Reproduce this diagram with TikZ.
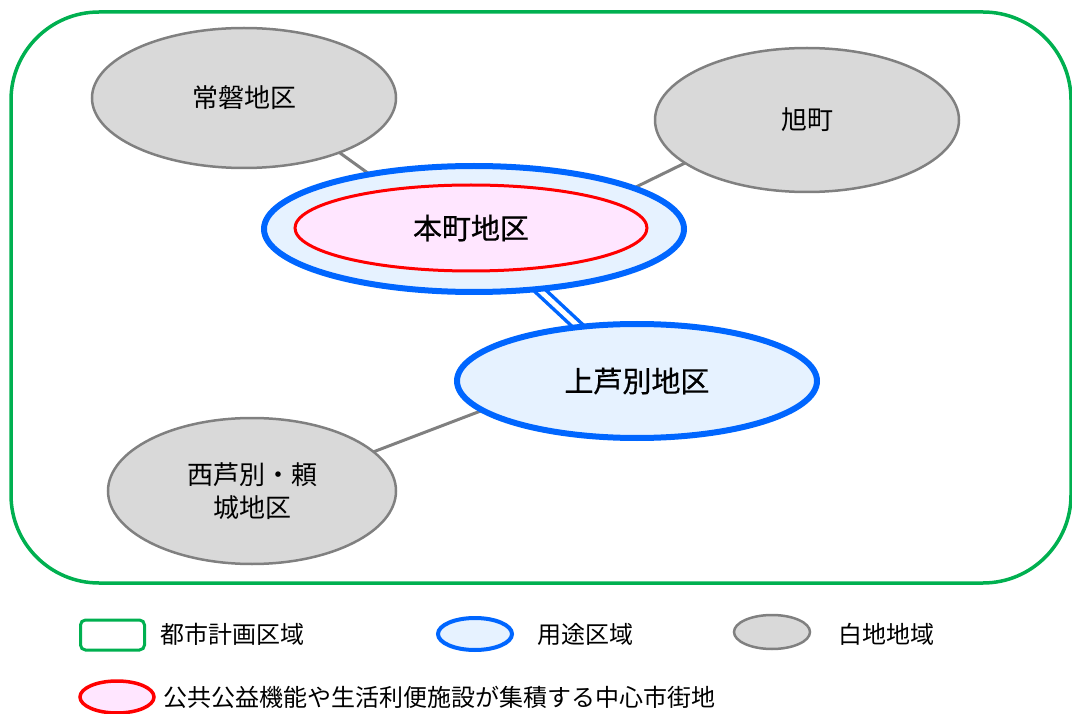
\documentclass[tikz,border=0pt]{standalone}
\usepackage{fontspec}
\setmainfont{Noto Sans CJK JP}
\newfontfamily\jpbold{Noto Sans CJK JP}[FakeBold=0.6]
\usetikzlibrary{shapes.geometric}
\definecolor{frameg}{HTML}{00B050}
\definecolor{useblue}{HTML}{0066FF}
\definecolor{usefill}{HTML}{E6F2FF}
\definecolor{cenfill}{HTML}{FFE6FF}
\definecolor{grayfill}{HTML}{D9D9D9}
\definecolor{graystroke}{HTML}{808080}
\tikzset{
  whiteell/.style={ellipse, draw=graystroke, fill=grayfill, line width=2.5pt, inner sep=0pt, font=\fontsize{26}{33}\selectfont, align=center},
  useell/.style={ellipse, draw=useblue, fill=usefill, line width=6pt, inner sep=0pt},
  cenell/.style={ellipse, draw=red, fill=cenfill, line width=3pt, inner sep=0pt, font=\jpbold\fontsize{29}{33}\selectfont},
  link/.style={draw=graystroke, line width=3pt},
  uselink/.style={draw=useblue, double=white, double distance=5pt, line width=3.5pt},
  legtext/.style={anchor=west, font=\fontsize{24}{28}\selectfont, inner sep=0pt},
}
\begin{document}
\begin{tikzpicture}[x=1pt,y=-1pt]
\useasboundingbox (0,0) rectangle (1072,714);
% frame
\draw[frameg, line width=3.5pt, rounded corners=88pt] (11,12) rectangle (1071,583);
% node centres
\coordinate (cTo) at (244,98);
\coordinate (cAs) at (807,120);
\coordinate (cHo) at (474,229);
\coordinate (cKa) at (637,381);
\coordinate (cNi) at (252,491);
% connector anchor points (hidden inside the ellipses)
\coordinate (pTo) at (320,138.6);
\coordinate (pHo1) at (390,189);
\coordinate (pAs) at (720,145.9);
\coordinate (pHo2) at (600,204.6);
\coordinate (pNi) at (340,464.6);
\coordinate (pKa) at (520,396);
% connectors
\draw[link] (pTo) -- (pHo1);
\draw[link] (pAs) -- (pHo2);
\draw[link] (pNi) -- (pKa);
\draw[uselink] (cHo) -- (cKa);
% ellipses
\node[whiteell, minimum width=304pt, minimum height=140pt] (to) at (cTo) {常磐地区};
\node[whiteell, minimum width=304pt, minimum height=144pt] (as) at (cAs) {旭町};
\node[whiteell, minimum width=288pt, minimum height=146pt] (ni) at (cNi) {西芦別・頼\\城地区};
\node[useell, minimum width=420pt, minimum height=126pt] (ho) at (cHo) {};
\node[cenell, minimum width=352pt, minimum height=86pt] (hoc) at (471,228) {本町地区};
\node[useell, minimum width=360pt, minimum height=114pt, font=\jpbold\fontsize{29}{33}\selectfont] (ka) at (cKa) {上芦別地区};
% legend
\node[draw=frameg, line width=3pt, rounded corners=5pt, minimum width=64pt, minimum height=30pt, inner sep=0pt] (lg) at (112.5,635) {};
\node[legtext] (lgt) at (160,634) {都市計画区域};
\node[ellipse, draw=useblue, fill=usefill, line width=4pt, minimum width=74pt, minimum height=32pt, inner sep=0pt] (lb) at (475,634) {};
\node[legtext] (lbt) at (537,634) {用途区域};
\node[ellipse, draw=graystroke, fill=grayfill, line width=2.5pt, minimum width=76pt, minimum height=34pt, inner sep=0pt] (lw) at (772,632) {};
\node[legtext] (lwt) at (838,634) {白地地域};
\node[ellipse, draw=red, fill=cenfill, line width=3.5pt, minimum width=74pt, minimum height=32pt, inner sep=0pt] (lr) at (117,697) {};
\node[legtext] (lrt) at (163,697) {公共公益機能や生活利便施設が集積する中心市街地};
\end{tikzpicture}
\end{document}
